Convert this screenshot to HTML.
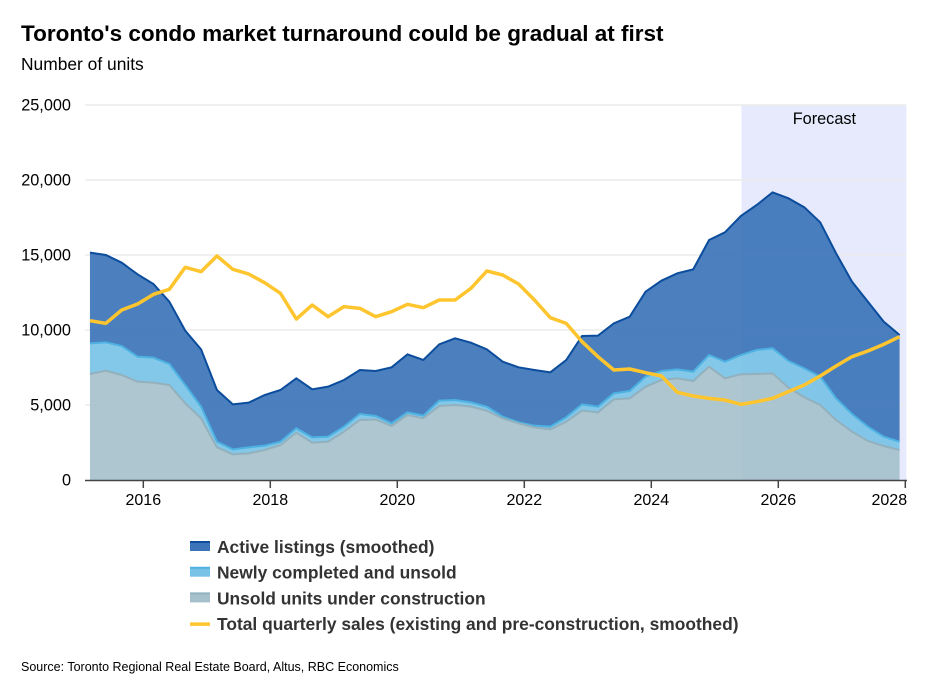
<!DOCTYPE html>
<html><head><meta charset="utf-8">
<style>
body{margin:0;background:#fff;font-family:"Liberation Sans",Arial,sans-serif;}
#wrap{position:relative;width:933px;height:698px;overflow:hidden;}
.t{position:absolute;white-space:nowrap;color:#000;}
</style></head>
<body>
<div id="wrap">
<div class="t" style="left:21px;top:21px;font-size:22.5px;font-weight:bold;">Toronto's condo market turnaround could be gradual at first</div>
<div class="t" style="left:21px;top:54px;font-size:17.4px;">Number of units</div>
<svg id="chart" width="933" height="698" style="position:absolute;left:0;top:0"></svg>
<div class="t" style="left:21px;top:660px;font-size:12.5px;">Source: Toronto Regional Real Estate Board, Altus, RBC Economics</div>
</div>
<script>
const yTicks=[0,5000,10000,15000,20000,25000];
const yTickLabels=["0","5,000","10,000","15,000","20,000","25,000"];
const xTicks=[2016,2018,2020,2022,2024,2026,2028];
const startYear=2015.16;
const stepYear=0.25;
const forecastStart=2025.42;
const forecastEnd=2028.0;
const unsoldUnderConstruction=[7067,7289,7000,6556,6489,6333,5111,4111,2178,1711,1778,2000,2333,3156,2489,2556,3222,4000,4044,3600,4333,4111,4933,5000,4889,4622,4111,3778,3511,3378,3889,4622,4511,5378,5444,6222,6667,6778,6600,7556,6778,7044,7067,7111,6156,5511,5000,4000,3222,2600,2267,2000];
const newlyCompletedUnsold=[2044,1889,1933,1666,1667,1400,1222,778,378,333,400,289,223,288,355,333,334,400,223,178,178,178,356,333,289,267,111,66,111,178,289,422,378,400,489,667,600,600,622,777,1111,1289,1600,1667,1777,1933,1889,1444,1178,956,622,556];
const activeListings=[6045,5822,5556,5489,4911,4156,3623,3822,3444,3000,2978,3378,3444,3334,3200,3333,3111,2933,3000,3733,3867,3711,3755,4111,3978,3822,3667,3667,3711,3622,3822,4556,4733,4666,4956,5667,6022,6400,6822,7667,8622,9267,9666,10400,10845,10734,10289,9667,8822,8333,7667,7111];
const totalSales=[10622,10444,11333,11733,12378,12711,14178,13889,14933,14044,13733,13156,12444,10733,11667,10889,11556,11444,10889,11222,11711,11489,12000,12000,12778,13933,13667,13067,12000,10822,10444,9222,8222,7333,7400,7156,6933,5844,5600,5444,5333,5044,5222,5444,5889,6333,6933,7600,8222,8600,9044,9556];

const NS="http://www.w3.org/2000/svg";
const svg=document.getElementById('chart');
const X=yr=>79.8+(yr-2015)*63.5;
const Y=v=>480-v*0.015;
function mk(tag,attrs,parent){const e=document.createElementNS(NS,tag);for(const k in attrs)e.setAttribute(k,attrs[k]);(parent||svg).appendChild(e);return e;}
const xs=unsoldUnderConstruction.map((_,i)=>X(startYear+i*stepYear));

let fb=mk('rect',{x:X(forecastStart),y:Y(25000),width:X(forecastEnd)-X(forecastStart)+1,height:Y(0)-Y(25000),fill:'#e6eafc'});


let ft=mk('text',{x:(X(forecastStart)+X(forecastEnd))/2+1,y:124,'text-anchor':'middle','font-size':16.3,fill:'#000'});
ft.textContent='Forecast';



yTicks.forEach((t,i)=>{
  if(t>0){let g=mk('line',{x1:85,x2:906,y1:Y(t),y2:Y(t),stroke:'#ebebeb','stroke-width':1.5});
  
  }
  let l=mk('text',{x:71,y:Y(t)+5.5,'text-anchor':'end','font-size':16.3,fill:'#000'});
  l.textContent=yTickLabels[i];
  
  
});

const s1=unsoldUnderConstruction;
const s2=s1.map((v,i)=>v+newlyCompletedUnsold[i]);
const s3=s2.map((v,i)=>v+activeListings[i]);
function area(top,bot,fill,stroke,name){
  let d='M'+xs.map((x,i)=>x+','+Y(top[i])).join('L');
  for(let i=xs.length-1;i>=0;i--)d+='L'+xs[i]+','+Y(bot?bot[i]:0);
  d+='Z';
  let a=mk('path',{d:d,fill:fill,'fill-opacity':0.92});
  
  
  let l=mk('path',{d:'M'+xs.map((x,i)=>x+','+Y(top[i])).join('L'),fill:'none',stroke:stroke,'stroke-width':2});
  
  
}
area(s3,s2,'#3c74b9','#0b4d9c','active-listings');
area(s2,s1,'#78c2e7','#4db2e2','newly-completed');
area(s1,null,'#a6c1cc','#93b0bd','unsold-under-construction');
let sl=mk('path',{d:'M'+xs.map((x,i)=>x+','+Y(totalSales[i])).join('L'),fill:'none',stroke:'#fec52e','stroke-width':3.5,'stroke-linejoin':'round'});



let ax=mk('line',{x1:85,x2:907,y1:480.5,y2:480.5,stroke:'#444','stroke-width':1.5});


xTicks.forEach(t=>{
  let tk=mk('line',{x1:X(t),x2:X(t),y1:480,y2:488,stroke:'#444','stroke-width':1.5});
  
  
  let l=mk('text',{x:t===2028?X(t)-16:X(t),y:505,'text-anchor':'middle','font-size':16,fill:'#000'});
  l.textContent=String(t);
  
  
});

const legendLabels=["Active listings (smoothed)","Newly completed and unsold","Unsold units under construction","Total quarterly sales (existing and pre-construction, smoothed)"];
const legendFill=['#3c74b9','#78c2e7','#a6c1cc',null];
const legendStroke=['#0b4d9c','#4db2e2','#93b0bd','#fec52e'];
legendLabels.forEach((lab,i)=>{
  const cy=547+i*25.7;
  const g=mk('g',{});
  
  
  if(legendFill[i]){
    mk('rect',{x:190,y:cy-5,width:20,height:9,fill:legendFill[i]},g);
    mk('line',{x1:190,x2:210,y1:cy-5,y2:cy-5,stroke:legendStroke[i],'stroke-width':2},g);
  } else {
    mk('line',{x1:190,x2:210,y1:cy,y2:cy,stroke:legendStroke[i],'stroke-width':3.5},g);
  }
  const t=mk('text',{x:217,y:cy+6,'font-size':17.4,'font-weight':'bold',fill:'#333'},g);
  t.textContent=lab;
});
</script>
</body></html>
